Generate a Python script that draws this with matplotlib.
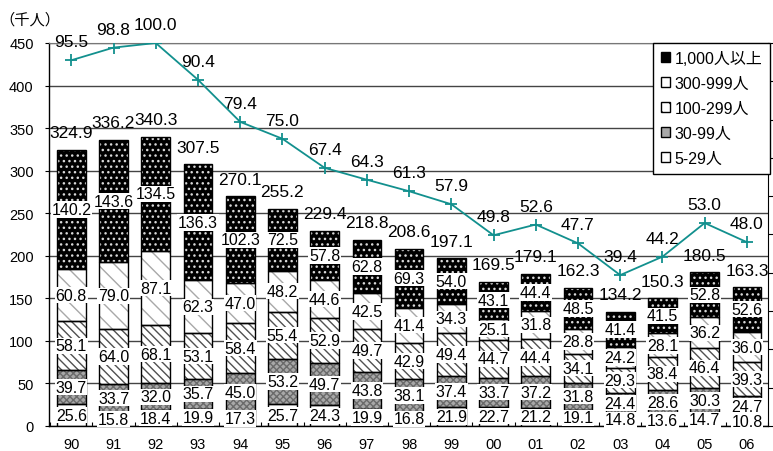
import matplotlib
matplotlib.use("Agg")
import matplotlib.pyplot as plt
from matplotlib.patches import Patch
import numpy as np

plt.rcParams["font.family"] = ["Liberation Sans", "Noto Sans CJK JP"]
plt.rcParams["hatch.linewidth"] = 1.0

# Fiscal years (two-digit labels)
years = ["90", "91", "92", "93", "94", "95", "96", "97", "98", "99",
         "00", "01", "02", "03", "04", "05", "06"]

# Employees by establishment size (thousand persons)
size_5_29 = [25.6, 15.8, 18.4, 19.9, 17.3, 25.7, 24.3, 19.9, 16.8, 21.9,
             22.7, 21.2, 19.1, 14.8, 13.6, 14.7, 10.8]
size_30_99 = [39.7, 33.7, 32.0, 35.7, 45.0, 53.2, 49.7, 43.8, 38.1, 37.4,
              33.7, 37.2, 31.8, 24.4, 28.6, 30.3, 24.7]
size_100_299 = [58.1, 64.0, 68.1, 53.1, 58.4, 55.4, 52.9, 49.7, 42.9, 49.4,
                44.7, 44.4, 34.1, 29.3, 38.4, 46.4, 39.3]
size_300_999 = [60.8, 79.0, 87.1, 62.3, 47.0, 48.2, 44.6, 42.5, 41.4, 34.3,
                25.1, 31.8, 28.8, 24.2, 28.1, 36.2, 36.0]
size_1000 = [140.2, 143.6, 134.5, 136.3, 102.3, 72.5, 57.8, 62.8, 69.3, 54.0,
             43.1, 44.4, 48.5, 41.4, 41.5, 52.8, 52.6]
totals = [324.9, 336.2, 340.3, 307.5, 270.1, 255.2, 229.4, 218.8, 208.6, 197.1,
          169.5, 179.1, 162.3, 134.2, 150.3, 180.5, 163.3]
# Index (1992 = 100)
index_1992 = [95.5, 98.8, 100.0, 90.4, 79.4, 75.0, 67.4, 64.3, 61.3, 57.9,
              49.8, 52.6, 47.7, 39.4, 44.2, 53.0, 48.0]

series = [
    ("5-29人", size_5_29, dict(fc="white", hatch=None, hc="white")),
    ("30-99人", size_30_99, dict(fc="#a8a8a8", hatch="xxxxx", hc="#6a6a6a")),
    ("100-299人", size_100_299, dict(fc="white", hatch="\\\\\\\\", hc="#505050")),
    ("300-999人", size_300_999, dict(fc="white", hatch="\\\\", hc="#a8a8a8")),
    ("1,000人以上", size_1000, dict(fc="black", hatch="...", hc="#d8d8d8")),
]

fig = plt.figure(figsize=(7.73, 4.52), dpi=100)
ax = fig.add_axes([49 / 773, 25 / 452, 719 / 773, 383 / 452])

x = np.arange(len(years))
width = 0.68
bottom = np.zeros(len(years))
for label, vals, st in series:
    vals = np.asarray(vals)
    ax.bar(x, vals, width, bottom=bottom, color=st["fc"], hatch=st["hatch"],
           edgecolor=st["hc"], linewidth=0, zorder=2)
    ax.bar(x, vals, width, bottom=bottom, fill=False, edgecolor="black",
           linewidth=1.0, zorder=3)
    for xi, b, v in zip(x, bottom, vals):
        ax.text(xi, b + v / 2, f"{v:.1f}", ha="center", va="center",
                fontsize=11.5, zorder=5,
                bbox=dict(boxstyle="square,pad=0.04", fc="white", ec="none"))
    bottom = bottom + vals

for xi, t in zip(x, totals):
    ax.annotate(f"{t:.1f}", (xi, t), xytext=(0, 9), textcoords="offset points",
                ha="center", va="baseline", fontsize=12.5, zorder=6)

ax.set_xlim(-0.528, 16.352)
ax.set_ylim(0, 450)
ax.set_yticks(np.arange(0, 451, 50))
ax.set_xticks(x)
ax.set_xticklabels(years, fontsize=10.5)
ax.set_xticks(np.arange(-0.5, 16.6, 1), minor=True)
ax.tick_params(axis="x", which="major", length=0, pad=8)
ax.tick_params(axis="x", which="minor", length=3, direction="in", width=0.8)
ax.tick_params(axis="y", length=3, direction="out", labelsize=10.5, pad=8)
ax.yaxis.grid(True, color="#444444", linewidth=1.0, zorder=0)
ax.set_axisbelow(True)
ax.spines["top"].set_color("#777777")
ax.spines["right"].set_color("black")
ax.spines["left"].set_linewidth(1.0)
ax.spines["bottom"].set_linewidth(1.0)

fig.text(30 / 773, 1 - 20 / 452, "（千人）", ha="center", va="center", fontsize=11)

# Index line on a secondary 0-100 scale
ax2 = ax.twinx()
ax2.set_ylim(0, 100)
ax2.set_yticks(np.arange(0, 101, 10))
ax2.tick_params(axis="y", length=4, direction="out", labelright=False, width=0.8)
for s in ax2.spines.values():
    s.set_visible(False)
ax2.plot(x, index_1992, color="#12908e", linewidth=1.3, marker="+",
         markersize=8, markeredgewidth=1.3, zorder=4)
for xi, v in zip(x, index_1992):
    ax2.annotate(f"{v:.1f}", (xi, v), xytext=(0, 10), textcoords="offset points",
                 ha="center", va="baseline", fontsize=12.5)

handles = [
    Patch(fc="black", ec="black", hatch="..", label="1,000人以上"),
    Patch(fc="white", ec="black", label="300-999人"),
    Patch(fc="white", ec="black", hatch="\\\\", label="100-299人"),
    Patch(fc="#a8a8a8", ec="black", label="30-99人"),
    Patch(fc="white", ec="black", label="5-29人"),
]
leg = ax2.legend(handles=handles, loc="upper right", bbox_to_anchor=(1.003, 1.0),
                 borderaxespad=0, fancybox=False, edgecolor="black", framealpha=1,
                 fontsize=11.5, handlelength=0.6, handleheight=0.6,
                 handletextpad=0.25, labelspacing=0.62, borderpad=0.5)
leg.get_frame().set_linewidth(1.0)
leg.set_zorder(10)

fig.savefig("out.png", dpi=100)
